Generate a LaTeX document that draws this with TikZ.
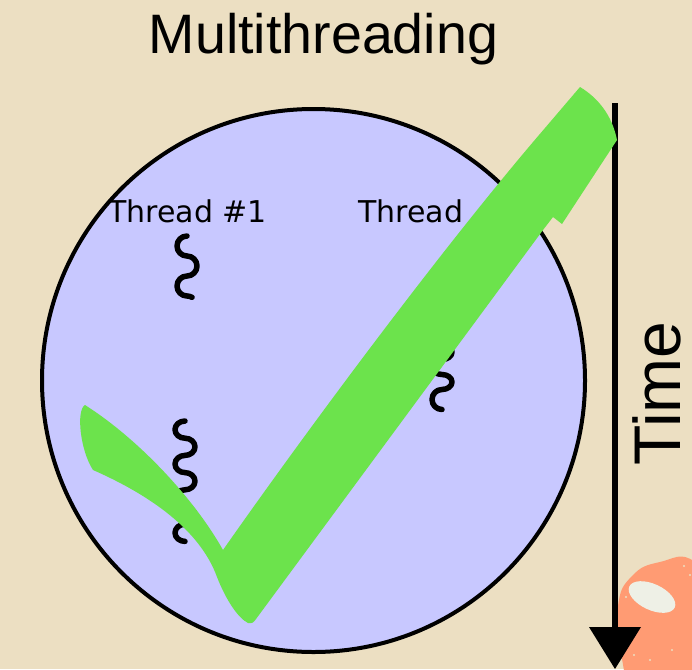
\documentclass[tikz,border=0pt]{standalone}
\usepackage{fontspec}
\newfontfamily\headfont{Liberation Sans}
\newfontfamily\labelfont{DejaVu Sans}
\definecolor{paper}{HTML}{ECDFC2}
\definecolor{process}{HTML}{C8C8FF}
\definecolor{tick}{HTML}{6CE34C}
\definecolor{blob}{HTML}{FF9B73}
\definecolor{shine}{HTML}{EEF0E6}
\begin{document}
\begin{tikzpicture}[x=1pt,y=-1pt,
  squig/.style={line width=5.5pt,line cap=round,line join=round},
  txt/.style={inner sep=0pt,anchor=base}]
\useasboundingbox (0,0) rectangle (692,669);
\fill[paper] (0,0) rectangle (692,669);
\begin{scope}
\clip (0,0) rectangle (692,669);

% the process
\node[circle,draw=black,fill=process,line width=4pt,minimum size=543pt,inner sep=0pt]
  (process) at (313.5,380.5) {};

% thread labels
\node[txt,font=\labelfont\fontsize{30}{36}\selectfont] (thread1) at (187.5,222) {Thread \#1};
\node[txt,anchor=base west,font=\labelfont\fontsize{30}{36}\selectfont] (thread2) at (358,222) {Thread};

% thread squiggles: chains of half loops, alternating left and right
\draw[squig] (187,236)
  arc[start angle=270,end angle=90,x radius=10,y radius=10]
  arc[start angle=270,end angle=450,x radius=10,y radius=10]
  arc[start angle=270,end angle=90,x radius=10,y radius=10]
  arc[start angle=270,end angle=300,x radius=10,y radius=10];
\draw[squig] (442,299.5)
  foreach \k in {1,2,3} {
    arc[start angle=270,end angle=90,x radius=10,y radius=7.5]
    arc[start angle=270,end angle=450,x radius=10,y radius=7.5]
  }
  arc[start angle=270,end angle=90,x radius=10,y radius=10];
\draw[squig] (185,421)
  foreach \k in {1,2,3} {
    arc[start angle=270,end angle=90,x radius=10,y radius=8.6]
    arc[start angle=270,end angle=450,x radius=10,y radius=8.6]
  }
  arc[start angle=270,end angle=90,x radius=10,y radius=8.6];

% sticker in the corner
\fill[blob] plot[smooth cycle,tension=0.8] coordinates
  {(618,606) (632,576) (660,562) (695,562) (725,610) (705,690) (640,690) (621,655)};
\foreach \p in {(628,640),(634,655),(690,575),(684,566),(626,597),(672,650),(650,660)}
  \fill[paper] \p circle [radius=1.1];
\fill[shine,rotate around={-25:(652,597)}] (652,597) ellipse [x radius=25, y radius=13];

% time axis
\coordinate (ttop) at (615,103);
\coordinate (tbase) at (615,630);
\coordinate (ttip) at (615,669);
\draw[line width=6pt] (ttop) -- (tbase);
\fill (589,627) -- (641,627) -- (ttip) -- cycle;
\node[txt,rotate=90,font=\headfont\fontsize{66}{70}\selectfont] (time) at (680,393.5) {Time};

% check mark
\fill[tick] (580,87) -- (545,128)
  .. controls (440,250) and (300,440) .. (223,550)
  .. controls (195,500) and (140,440) .. (85,405)
  .. controls (76,410) and (80,450) .. (93,470)
  .. controls (150,495) and (200,530) .. (217,577)
  .. controls (226,600) and (238,618) .. (248,623)
  .. controls (252,624) and (254,622) .. (256,619)
  -- (543,230) -- (553,217) -- (562,224) -- (617,140)
  .. controls (612,115) and (598,98) .. (580,87) -- cycle;
\end{scope}

% title
\node[txt,font=\headfont\fontsize{55.6}{62}\selectfont] (title) at (323.5,53) {Multithreading};
\end{tikzpicture}
\end{document}
